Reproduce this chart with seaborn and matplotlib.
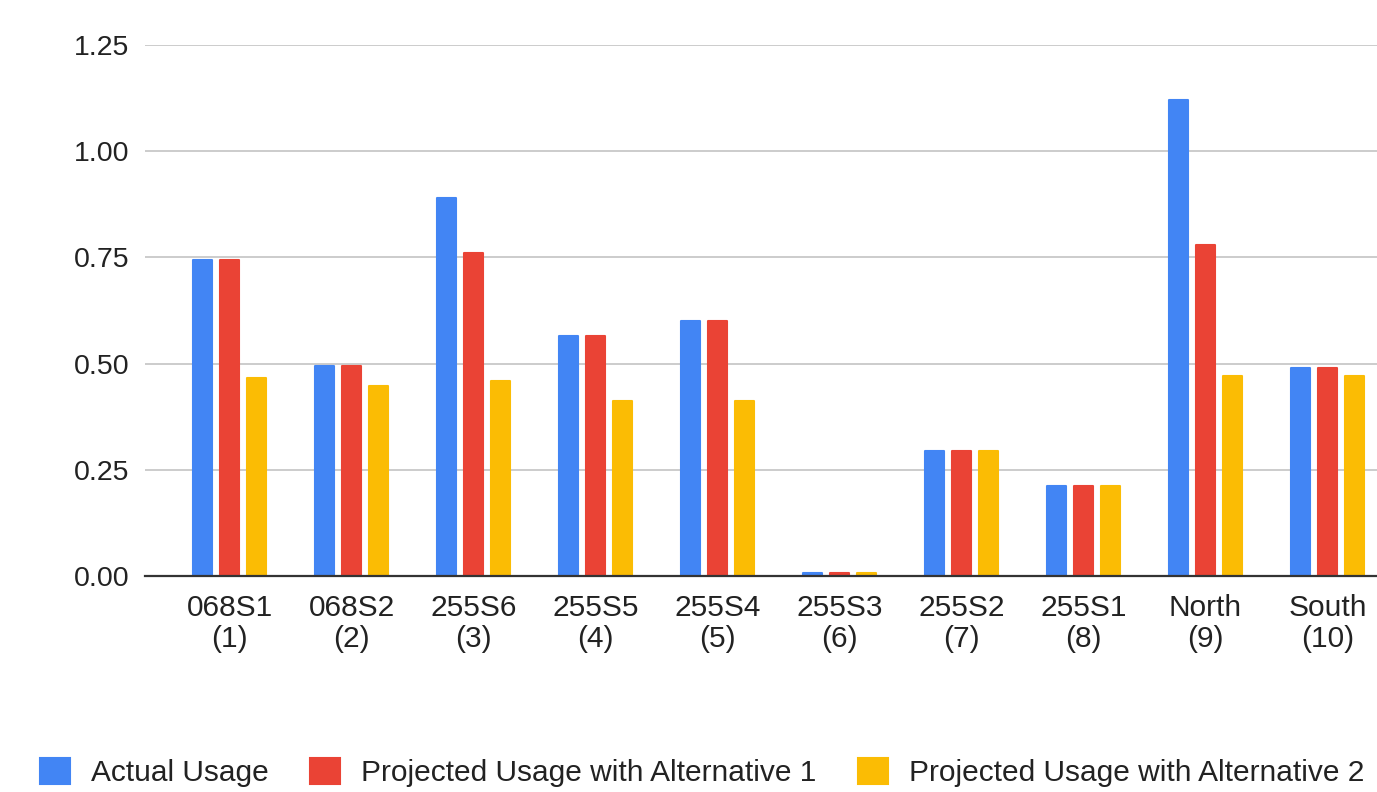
import numpy as np
import pandas as pd
import matplotlib
matplotlib.use("Agg")
import matplotlib.pyplot as plt
from matplotlib.patches import Patch
import seaborn as sns

# Usage per site, three scenarios
sites = ["068S1\n(1)", "068S2\n(2)", "255S6\n(3)", "255S5\n(4)", "255S4\n(5)",
         "255S3\n(6)", "255S2\n(7)", "255S1\n(8)", "North\n(9)", "South\n(10)"]
actual_usage = [0.745, 0.495, 0.890, 0.565, 0.600, 0.006, 0.294, 0.212, 1.120, 0.490]
alternative_1 = [0.745, 0.495, 0.761, 0.565, 0.600, 0.006, 0.294, 0.212, 0.779, 0.490]
alternative_2 = [0.465, 0.448, 0.460, 0.412, 0.412, 0.006, 0.294, 0.212, 0.471, 0.471]
series_names = ["Actual Usage", "Projected Usage with Alternative 1",
                "Projected Usage with Alternative 2"]
y_ticks = [0.0, 0.25, 0.5, 0.75, 1.0, 1.25]

colors = ["#4285F4", "#EA4335", "#FBBC04"]
text_color = "#222222"

df = pd.DataFrame({
    "site": sites * 3,
    "value": actual_usage + alternative_1 + alternative_2,
    "series": [series_names[0]] * len(sites) + [series_names[1]] * len(sites)
              + [series_names[2]] * len(sites),
})

sns.set_theme(style="white")
plt.rcParams["font.family"] = ["Liberation Sans", "DejaVu Sans"]

fig = plt.figure(figsize=(13.77, 7.92), dpi=100)
ax = fig.add_axes([0.1053, 0.2727, 0.8947, 0.6705])

sns.barplot(data=df, x="site", y="value", hue="series", order=sites,
            hue_order=series_names, palette=colors, saturation=1,
            width=0.664, gap=0.27, errorbar=None, legend=False, ax=ax)

# soften bar corners with a same-colour outline
for p in ax.patches:
    p.set_edgecolor(p.get_facecolor())
    p.set_linewidth(1.5)
    p.set_joinstyle("round")

ax.set_xlim(-0.693, 9.406)
ax.set_ylim(0, 1.25)
ax.set_yticks(y_ticks)
ax.set_yticklabels([f"{v:.2f}" for v in y_ticks])
ax.set_xlabel("")
ax.set_ylabel("")

ax.yaxis.grid(True, color="#cccccc", linewidth=1.4)
ax.set_axisbelow(True)
for side in ["top", "right", "left"]:
    ax.spines[side].set_visible(False)
ax.spines["bottom"].set_color("#333333")
ax.spines["bottom"].set_linewidth(1.6)
ax.spines["bottom"].set_zorder(5)

ax.tick_params(axis="y", length=0, pad=11.5, labelsize=20.5, labelcolor=text_color)
ax.tick_params(axis="x", length=0, pad=13, labelsize=21.5, labelcolor=text_color)
for lbl in ax.get_xticklabels():
    lbl.set_linespacing(1.12)

handles = [Patch(facecolor=c, edgecolor=c, linewidth=1.5, joinstyle="round")
           for c in colors]
fig.legend(handles, series_names, loc="lower center", ncol=3,
           bbox_to_anchor=(0.510, -0.028), frameon=False, fontsize=21.5,
           handlelength=1.0, handleheight=1.0, handletextpad=0.7,
           columnspacing=1.4, labelcolor=text_color)

fig.savefig("out.png", dpi=100)
